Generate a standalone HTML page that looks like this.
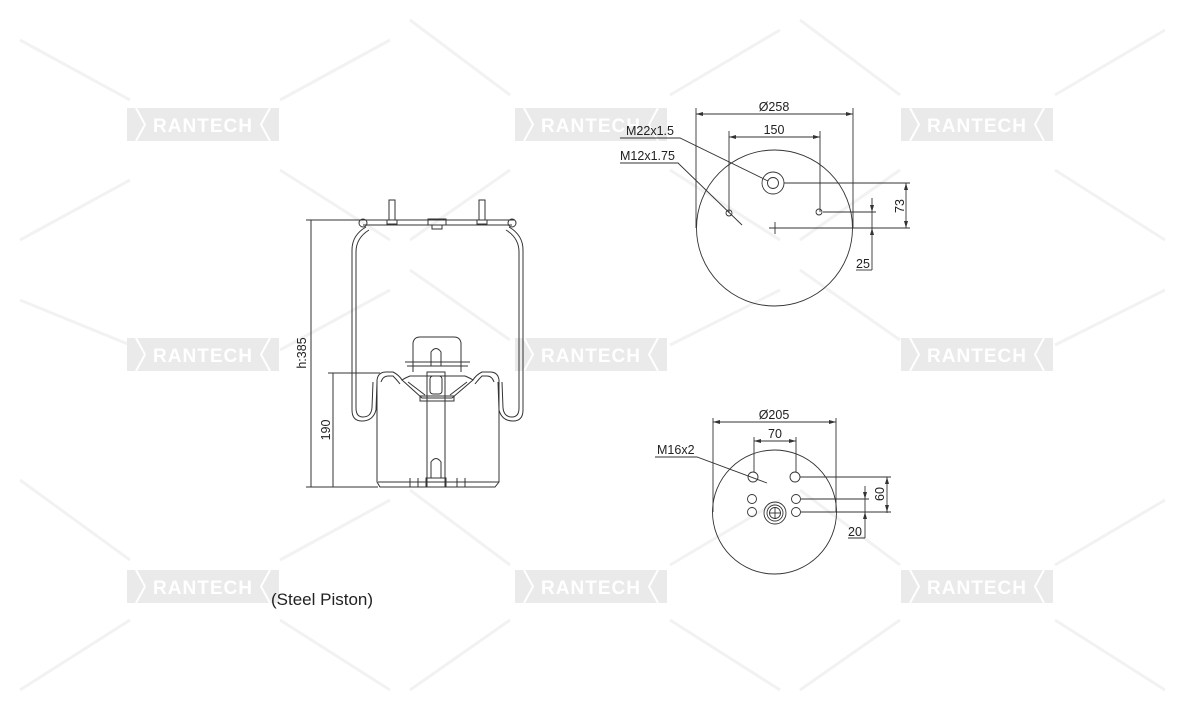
<!DOCTYPE html>
<html><head><style>
html,body{margin:0;padding:0;background:#fff;}
svg{display:block;}
text{font-family:"Liberation Sans",Arial,sans-serif;fill:#222;}
</style></head><body>
<svg width="1181" height="709" viewBox="0 0 1181 709" xmlns="http://www.w3.org/2000/svg">
<g stroke="#f2f2f2" stroke-width="3" fill="none">
<path d="M20 40 L130 100 M280 100 L390 40 M410 20 L510 95 M670 95 L780 30 M800 20 L900 95 M1055 95 L1165 30"/>
<path d="M20 300 L130 345 M280 350 L390 290 M410 270 L510 340 M670 345 L780 290 M800 270 L900 340 M1055 345 L1165 290"/>
<path d="M20 480 L130 560 M280 560 L390 500 M410 490 L510 565 M670 565 L780 500 M800 490 L900 565 M1055 565 L1165 500"/>
<path d="M20 690 L130 620 M280 620 L390 690 M410 690 L510 620 M670 620 L780 690 M800 690 L900 620 M1055 620 L1165 690"/>
<path d="M20 240 L130 180 M280 170 L390 240 M410 240 L510 170 M670 170 L780 240 M800 240 L900 170 M1055 170 L1165 240"/>
</g>
<g>
<g id="wm">
<rect x="127" y="108" width="152" height="33" fill="#eaeaea"/>
<path d="M136 108 L145 124.5 L136 141" stroke="#fff" stroke-width="2" fill="none"/>
<path d="M270 108 L261 124.5 L270 141" stroke="#fff" stroke-width="2" fill="none"/>
<text x="203" y="132" text-anchor="middle" style="fill:#fff;font-weight:bold;font-size:19px;letter-spacing:1px">RANTECH</text>
</g>
<use href="#wm" x="388" y="0"/><use href="#wm" x="774" y="0"/>
<use href="#wm" x="0" y="230"/><use href="#wm" x="388" y="230"/><use href="#wm" x="774" y="230"/>
<use href="#wm" x="0" y="462"/><use href="#wm" x="388" y="462"/><use href="#wm" x="774" y="462"/>
</g>

<!-- LEFT DRAWING -->
<g stroke="#333" stroke-width="1" fill="none">
<line x1="311" y1="220" x2="311" y2="487"/>
<line x1="306" y1="220" x2="365" y2="220"/>
<line x1="306" y1="487" x2="378" y2="487"/>
<line x1="333" y1="373" x2="333" y2="487"/>
<line x1="328" y1="373" x2="380" y2="373"/>
<rect x="389" y="200" width="6" height="20"/><rect x="387" y="220" width="10" height="4"/>
<rect x="479" y="200" width="6" height="20"/><rect x="477" y="220" width="10" height="4"/>
<rect x="428" y="219" width="18" height="6"/><rect x="432" y="225" width="10" height="4"/>
<path d="M360 220 L515 220 M363 225 L512 225"/>
<circle cx="363" cy="223" r="4"/><circle cx="512" cy="223" r="4"/>
<path d="M366 227 Q352 235 352 250 L352 410 Q352 421 362 421 Q373 421 376 410 L377 382"/>
<path d="M369 230 Q356 238 356 252 L356 408 Q356 417 363 417 Q371 417 372 408 L373 382"/>
<path d="M509 227 Q523 235 523 250 L523 410 Q523 421 513 421 Q502 421 499 410 L498 382"/>
<path d="M506 230 Q519 238 519 252 L519 408 Q519 417 512 417 Q504 417 503 408 L502 382"/>
<path d="M377 380 Q378 372 386 372 L393 372 Q399 375 402 380 Q405 378 410 376 L465 376 Q470 378 473 380 Q476 375 482 372 L490 372 Q498 372 499 380 L499 482 L495 487 L380 487 L377 482 Z"/>
<path d="M381 382 Q383 376 388 376 L393 376 Q397 380 400 384 M494 382 Q492 376 487 376 L482 376 Q478 380 475 384"/>
<line x1="378" y1="482" x2="499" y2="482"/>
<line x1="410" y1="478" x2="410" y2="487"/><line x1="418" y1="478" x2="418" y2="487"/>
<line x1="457" y1="478" x2="457" y2="487"/><line x1="465" y1="478" x2="465" y2="487"/>
<path d="M413 372 L413 343 Q414 337 420 337 L454 337 Q460 337 461 343 L461 372"/>
<path d="M405 362 L470 362 M407 366 L468 366"/>
<path d="M402 380 L422 398 L452 398 L473 380"/>
<path d="M408 382 L425 395 M467 382 L450 395"/>
<rect x="420" y="396" width="34" height="5"/>
<rect x="427" y="372" width="18" height="115"/>
<path d="M431 366 L431 352 Q436 345 441 352 L441 366"/>
<rect x="430" y="376" width="12" height="18" rx="3"/>
<path d="M431 478 L431 462 Q436 455 441 462 L441 478"/>
<rect x="426" y="478" width="20" height="9"/>
</g>
<text transform="translate(306,353) rotate(-90)" text-anchor="middle" style="font-size:12.5px">h:385</text>
<text transform="translate(330,430) rotate(-90)" text-anchor="middle" style="font-size:12.5px">190</text>
<text x="271" y="605" style="font-size:17px">(Steel Piston)</text>

<!-- TOP CIRCLE -->
<g stroke="#333" stroke-width="0.9" fill="none">
<circle cx="774.5" cy="228" r="78"/>
<line x1="696" y1="108" x2="696" y2="228"/><line x1="853" y1="108" x2="853" y2="228"/>
<line x1="696" y1="114" x2="853" y2="114"/>
<line x1="729" y1="131" x2="729" y2="213"/><line x1="820" y1="131" x2="820" y2="212"/>
<line x1="729" y1="137" x2="820" y2="137"/>
<circle cx="773" cy="183" r="5.5"/><circle cx="773" cy="183" r="11"/>
<circle cx="729" cy="213" r="3"/><circle cx="819" cy="212" r="3"/>
<line x1="775" y1="222" x2="775" y2="234"/><line x1="769" y1="228" x2="910" y2="228"/>
<line x1="784" y1="183" x2="910" y2="183"/>
<line x1="906" y1="183" x2="906" y2="228"/>
<line x1="823" y1="212" x2="876" y2="212"/>
<line x1="872" y1="198" x2="872" y2="270"/>
<line x1="856" y1="270" x2="872" y2="270"/>
<polyline points="620,138 680,138 768,181"/>
<polyline points="620,163 678,163 742,225"/>
</g>
<g fill="#333">
<path d="M696 114 l7 -2 v4z M853 114 l-7 -2 v4z M729 137 l7 -2 v4z M820 137 l-7 -2 v4z"/>
<path d="M906 183 l-2 7 h4z M906 228 l-2 -7 h4z M872 212 l-2 -7 h4z M872 228 l-2 7 h4z"/>
</g>
<text x="774" y="111" text-anchor="middle" style="font-size:12.5px">Ø258</text>
<text x="774" y="134" text-anchor="middle" style="font-size:12.5px">150</text>
<text x="626" y="135" style="font-size:12.5px">M22x1.5</text>
<text x="620" y="160" style="font-size:12.5px">M12x1.75</text>
<text transform="translate(904,206) rotate(-90)" text-anchor="middle" style="font-size:12.5px">73</text>
<text x="856" y="268" style="font-size:12.5px">25</text>

<!-- BOTTOM CIRCLE -->
<g stroke="#333" stroke-width="0.9" fill="none">
<circle cx="774.5" cy="512" r="62"/>
<line x1="713" y1="418" x2="713" y2="512"/><line x1="836" y1="418" x2="836" y2="512"/>
<line x1="713" y1="422" x2="836" y2="422"/>
<line x1="754" y1="437" x2="754" y2="472"/><line x1="796" y1="437" x2="796" y2="472"/>
<line x1="754" y1="441" x2="796" y2="441"/>
<circle cx="753" cy="477" r="5"/><circle cx="795" cy="477" r="5"/>
<circle cx="752" cy="499" r="4.5"/><circle cx="796" cy="499" r="4.5"/>
<circle cx="752" cy="512" r="4.5"/><circle cx="796" cy="512" r="4.5"/>
<circle cx="775" cy="513" r="11"/><circle cx="775" cy="513" r="8"/><circle cx="775" cy="513" r="5.5"/>
<line x1="775" y1="507" x2="775" y2="519"/><line x1="769" y1="513" x2="781" y2="513"/>
<line x1="800" y1="477" x2="891" y2="477"/><line x1="887" y1="477" x2="887" y2="513"/>
<line x1="801" y1="499" x2="869" y2="499"/><line x1="801" y1="512" x2="891" y2="512"/>
<line x1="865" y1="486" x2="865" y2="538"/><line x1="848" y1="538" x2="865" y2="538"/>
<polyline points="655,457 697,457 767,483"/>
</g>
<g fill="#333">
<path d="M713 422 l7 -2 v4z M836 422 l-7 -2 v4z M754 441 l7 -2 v4z M796 441 l-7 -2 v4z"/>
<path d="M887 477 l-2 7 h4z M887 512 l-2 -7 h4z M865 499 l-2 -7 h4z M865 512 l-2 7 h4z"/>
</g>
<text x="774" y="419" text-anchor="middle" style="font-size:12.5px">Ø205</text>
<text x="775" y="438" text-anchor="middle" style="font-size:12.5px">70</text>
<text x="657" y="454" style="font-size:12.5px">M16x2</text>
<text transform="translate(884,494) rotate(-90)" text-anchor="middle" style="font-size:12.5px">60</text>
<text x="848" y="536" style="font-size:12.5px">20</text>
</svg>
</body></html>
